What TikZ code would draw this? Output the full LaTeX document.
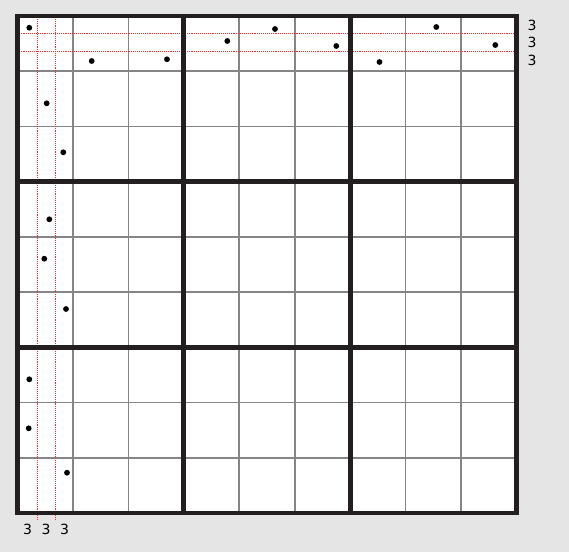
\documentclass[tikz,border=0pt]{standalone}
\usepackage{fontspec}
\setmainfont{DejaVu Sans}
\definecolor{bggrey}{HTML}{E5E5E5}
\definecolor{thickc}{HTML}{231F20}
\definecolor{thinc}{HTML}{858585}
\definecolor{guidered}{RGB}{255,40,40}
\tikzset{
  thinline/.style={draw=thinc, line width=1.6pt},
  thickline/.style={draw=thickc, line width=4.8pt},
  guideline/.style={draw=guidered, line width=1.1pt, dash pattern=on 1.1pt off 1pt},
  pt/.style={fill=black, circle, inner sep=0pt, minimum size=5.8pt},
  lbl/.style={font=\fontsize{14}{15}\selectfont, inner sep=0pt, text=black}
}
\begin{document}
\begin{tikzpicture}[x=1pt,y=-1pt]
\fill[bggrey] (0,0) rectangle (569,552);
\useasboundingbox (0,0) rectangle (569,552);
\def\xa{17.5}\def\ya{16}\def\cw{55.444}\def\ch{55.222}
\fill[white] (\xa,\ya) rectangle (516.5,513);
% thin lines
\foreach \i in {1,2,4,5,7,8}{
  \draw[thinline] ({\xa+\i*\cw},\ya) -- ({\xa+\i*\cw},513);
  \draw[thinline] (\xa,{\ya+\i*\ch}) -- (516.5,{\ya+\i*\ch});
}
% guide lines
\coordinate (v1t) at (37.5,17); \coordinate (v1b) at (37.5,521);
\coordinate (v2t) at (55.5,17); \coordinate (v2b) at (55.5,521);
\coordinate (h1l) at (15,33.7); \coordinate (h1r) at (518,33.7);
\coordinate (h2l) at (15,51.7); \coordinate (h2r) at (518,51.7);
\draw[guideline] (v1t) -- (v1b);
\draw[guideline] (v2t) -- (v2b);
\draw[guideline] (h1l) -- (h1r);
\draw[guideline] (h2l) -- (h2r);
% thick lines
\foreach \i in {3,6}{
  \draw[thickline] ({\xa+\i*\cw},\ya) -- ({\xa+\i*\cw},513);
  \draw[thickline] (\xa,{\ya+\i*\ch}) -- (516.5,{\ya+\i*\ch});
}
\draw[thickline] (\xa,\ya) rectangle (516.5,513);
% dots
\node[pt] (p1) at (29.3,27.7) {};
\node[pt] (p2) at (91.7,61) {};
\node[pt] (p3) at (167,59.3) {};
\node[pt] (p4) at (46.7,103.3) {};
\node[pt] (p5) at (63.3,152.3) {};
\node[pt] (p6) at (275,29) {};
\node[pt] (p7) at (227.3,41) {};
\node[pt] (p8) at (336.3,46) {};
\node[pt] (p9) at (379.5,62) {};
\node[pt] (p10) at (436.3,27) {};
\node[pt] (p11) at (495.3,45) {};
\node[pt] (p12) at (49.3,219.3) {};
\node[pt] (p13) at (44.3,258.7) {};
\node[pt] (p14) at (66,309) {};
\node[pt] (p15) at (29.3,379.3) {};
\node[pt] (p16) at (28.7,428.3) {};
\node[pt] (p17) at (67,472.7) {};
% labels
\node[lbl] (r1) at (532,25) {3};
\node[lbl] (r2) at (532,42.5) {3};
\node[lbl] (r3) at (532,60) {3};
\node[lbl] (b1) at (27.5,529) {3};
\node[lbl] (b2) at (46,529) {3};
\node[lbl] (b3) at (64.5,529) {3};
\end{tikzpicture}
\end{document}
